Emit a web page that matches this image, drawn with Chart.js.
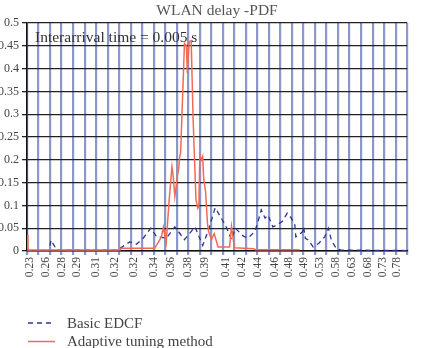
<!DOCTYPE html>
<html>
<head>
<meta charset="utf-8">
<script src="https://cdn.jsdelivr.net/npm/chart.js@4/dist/chart.umd.min.js"></script>
<style>
  html, body { margin: 0; padding: 0; background: #fff; }
</style>
</head>
<body>
<canvas id="pdfChart" width="423" height="348"></canvas>
<script>
// ── Data ──
// x axis is a bin index along the delay axis (0..396), a gridline every 12 bins
const xLabels = ['0.23', '0.26', '0.28', '0.29', '0.31', '0.32', '0.32', '0.34', '0.36', '0.38', '0.39',
  '0.41', '0.42', '0.44', '0.46', '0.48', '0.49', '0.53', '0.58', '0.63', '0.68', '0.73', '0.78'];
const xLabelBins = [3, 20, 36, 52, 72, 92, 111, 132, 150, 168, 185, 207, 224, 241, 258, 273, 289, 305, 322, 339, 355, 371, 385];

const yTicks = [0, 0.05, 0.1, 0.15, 0.2, 0.25, 0.3, 0.35, 0.4, 0.45, 0.5];

// Basic EDCF
const basicBins = [0, 23, 25, 31, 94, 97, 107, 114, 121, 129, 135, 140, 145, 154, 164, 175, 183, 189, 196, 207,
  213, 217, 225, 230, 237, 240, 244, 248, 251, 256, 261, 266, 271, 275, 279, 280, 283, 287, 288, 290,
  293, 298, 304, 310, 314, 317, 322, 327, 396];
const basicPdf = [0.001, 0.001, 0.024, 0.002, 0.002, 0.006, 0.02, 0.015, 0.028, 0.05, 0.031, 0.03, 0.028, 0.053, 0.025, 0.053, 0.012, 0.046, 0.095, 0.055,
  0.025, 0.05, 0.033, 0.028, 0.042, 0.06, 0.09, 0.072, 0.079, 0.053, 0.058, 0.065, 0.083, 0.073, 0.057, 0.031, 0.035, 0.042, 0.053, 0.028,
  0.024, 0.009, 0.017, 0.031, 0.05, 0.024, 0.006, 0.002, 0.001];

// Adaptive tuning method
const adaptBins = [0, 1, 97, 98, 133, 137, 140, 142, 145, 148, 151, 152, 154, 157, 158, 159, 160, 164, 166, 167,
  168, 169, 171, 173, 176, 178, 179, 180, 182, 183, 184, 186, 188, 189, 192, 195, 199, 211, 213, 216, 236, 238, 284];
const adaptPdf = [0.035, 0.002, 0.002, 0.006, 0.006, 0.02, 0.031, 0.052, 0.018, 0.11, 0.185, 0.17, 0.12, 0.17, 0.18, 0.207, 0.215, 0.455, 0.45, 0.39,
  0.43, 0.459, 0.461, 0.29, 0.112, 0.094, 0.1, 0.21, 0.2, 0.207, 0.16, 0.13, 0.06, 0.044, 0.025, 0.038, 0.009, 0.009, 0.054, 0.007, 0.005, 0.003, 0.003];

const serif = '"Liberation Serif", "DejaVu Serif", serif';
const textColor = '#444';
const vGridColor = 'rgba(82,98,175,0.66)';

const toPoints = (xs, ys) => xs.map((x, i) => ({ x: x, y: ys[i] }));

// Title, annotation and legend drawn on the canvas
const decorations = {
  id: 'decorations',
  afterDraw(chart) {
    const ctx = chart.ctx;
    ctx.save();
    ctx.fillStyle = '#555';
    ctx.textAlign = 'center';
    ctx.textBaseline = 'alphabetic';
    ctx.font = '15.5px ' + serif;
    ctx.fillText('WLAN delay -PDF', 217, 15);

    ctx.fillStyle = '#333';
    ctx.textAlign = 'left';
    ctx.font = '15.5px ' + serif;
    ctx.fillText('Interarrival time = 0.005 s', 35, 42);

    // legend
    ctx.font = '15px ' + serif;
    const rows = [{ ds: chart.data.datasets[1], y: 323 }, { ds: chart.data.datasets[0], y: 341.5 }];
    rows.forEach(r => {
      ctx.beginPath();
      ctx.strokeStyle = r.ds.borderColor;
      ctx.lineWidth = r.ds.borderWidth;
      ctx.setLineDash(r.ds.borderDash || []);
      ctx.moveTo(28, r.y);
      ctx.lineTo(55, r.y);
      ctx.stroke();
      ctx.setLineDash([]);
      ctx.fillStyle = textColor;
      ctx.textBaseline = 'middle';
      ctx.fillText(r.ds.label, 67, r.y + 1);
    });
    ctx.restore();
  }
};

new Chart(document.getElementById('pdfChart').getContext('2d'), {
  type: 'line',
  data: {
    datasets: [
      {
        label: 'Adaptive tuning method',
        data: toPoints(adaptBins, adaptPdf),
        borderColor: '#f26a55',
        borderWidth: 1.5,
        pointRadius: 0,
        tension: 0,
        order: 0
      },
      {
        label: 'Basic EDCF',
        data: toPoints(basicBins, basicPdf),
        borderColor: '#2b3590',
        borderWidth: 1.3,
        borderDash: [5, 4],
        pointRadius: 0,
        tension: 0,
        order: 1
      }
    ]
  },
  options: {
    responsive: false,
    animation: false,
    devicePixelRatio: 1,
    layout: { padding: { top: 23, right: 5, left: 0, bottom: 0 } },
    plugins: { legend: { display: false }, tooltip: { enabled: false }, title: { display: false } },
    scales: {
      x: {
        type: 'linear',
        min: 0,
        max: 396,
        afterBuildTicks: scale => {
          const vals = new Set();
          for (let v = 0; v <= 396; v += 12) vals.add(v);
          xLabelBins.forEach(v => vals.add(v));
          scale.ticks = Array.from(vals).sort((a, b) => a - b).map(v => ({ value: v }));
        },
        afterFit: scale => { scale.height = 97; },
        ticks: {
          autoSkip: false,
          minRotation: 90,
          maxRotation: 90,
          padding: 2,
          color: textColor,
          font: { family: serif, size: 11.5 },
          callback: v => {
            const i = xLabelBins.indexOf(v);
            return i >= 0 ? xLabels[i] : '';
          }
        },
        grid: {
          color: c => (c.tick && c.tick.value % 12 === 0) ? vGridColor : 'rgba(0,0,0,0)',
          lineWidth: 2.2,
          tickLength: 4
        },
        border: { color: '#111', width: 1.5 }
      },
      y: {
        min: 0,
        max: 0.5,
        afterBuildTicks: scale => { scale.ticks = yTicks.map(v => ({ value: v })); },
        afterFit: scale => { scale.width = 27; },
        ticks: {
          padding: 3,
          color: textColor,
          font: { family: serif, size: 12 },
          callback: v => String(+v.toFixed(2))
        },
        grid: { color: '#222', lineWidth: 1.3, tickLength: 5 },
        border: { color: '#111', width: 1.5 }
      }
    }
  },
  plugins: [decorations]
});
</script>
</body>
</html>
